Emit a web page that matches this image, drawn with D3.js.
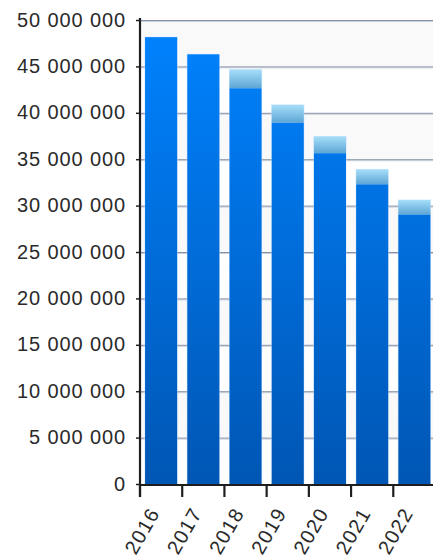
<!DOCTYPE html>
<html>
<head>
<meta charset="utf-8">
<script src="https://cdn.jsdelivr.net/npm/d3@7"></script>
<style>
  html, body { margin: 0; padding: 0; background: #fff; }
  svg { display: block; }
  text { font-family: "Liberation Sans", Arial, Helvetica, sans-serif; fill: #2a2a2a; }
</style>
</head>
<body>
<svg id="chart" width="433" height="560"></svg>
<script>
// Years on the category axis
const years = ["2016", "2017", "2018", "2019", "2020", "2021", "2022"];
// Lower (dark blue) segment of each bar
const baseValues = [48150000, 46300000, 42650000, 38950000, 35650000, 32300000, 29050000];
// Upper (light blue) segment stacked on top
const topValues = [0, 0, 2000000, 1900000, 1800000, 1600000, 1550000];
// Value axis ticks
const yTicks = [0, 5000000, 10000000, 15000000, 20000000, 25000000, 30000000, 35000000, 40000000, 45000000, 50000000];

const svg = d3.select("#chart");
const plotLeft = 140, plotRight = 435.5, plotTop = 20, plotBottom = 484;

const x = d3.scaleBand().domain(years).range([plotLeft, plotRight]).paddingInner(0.24).paddingOuter(0.12);
const y = d3.scaleLinear().domain([0, 50000000]).range([plotBottom, plotTop]);

const fmt = v => d3.format(",")(v).replace(/,/g, " ");
const tickX = d => x(d) - x.step() * x.paddingOuter();

const defs = svg.append("defs");
const gDark = defs.append("linearGradient").attr("id", "gDark")
  .attr("gradientUnits", "userSpaceOnUse").attr("x1", 0).attr("x2", 0).attr("y1", plotTop).attr("y2", plotBottom);
gDark.append("stop").attr("offset", 0).attr("stop-color", "#0083ff");
gDark.append("stop").attr("offset", 1).attr("stop-color", "#0056b4");

const gLight = defs.append("linearGradient").attr("id", "gLight")
  .attr("x1", 0).attr("x2", 0).attr("y1", 0).attr("y2", 1);
gLight.append("stop").attr("offset", 0).attr("stop-color", "#a6def9");
gLight.append("stop").attr("offset", 1).attr("stop-color", "#5ea6d6");

// Alternating background bands between gridlines
const bands = yTicks.slice(0, -1).map((t, i) => [t, yTicks[i + 1]]);
svg.append("g").selectAll("rect").data(bands).join("rect")
  .attr("x", plotLeft).attr("width", 433 - plotLeft)
  .attr("y", d => y(d[1])).attr("height", d => y(d[0]) - y(d[1]))
  .attr("fill", (d, i) => (bands.length - 1 - i) % 2 === 0 ? "#f9f9fa" : "#ffffff");

// Gridlines with a soft shadow
const grid = svg.append("g");
grid.selectAll("line.sh").data(yTicks.slice(1)).join("line").attr("class", "sh")
  .attr("x1", plotLeft).attr("x2", 433)
  .attr("y1", d => y(d) + 1.5).attr("y2", d => y(d) + 1.5)
  .attr("stroke", "#c9d0da").attr("stroke-width", 1);
grid.selectAll("line.gl").data(yTicks.slice(1)).join("line").attr("class", "gl")
  .attr("x1", plotLeft).attr("x2", 433)
  .attr("y1", d => y(d) + 0.5).attr("y2", d => y(d) + 0.5)
  .attr("stroke", "#8593a8").attr("stroke-width", 1);

// Bars: dark base segment with the light segment stacked on top
const bars = svg.append("g");
years.forEach((yr, i) => {
  const bx = x(yr), bw = x.bandwidth();
  const b = baseValues[i], t = topValues[i];
  bars.append("rect").attr("x", bx - 0.5).attr("width", bw + 1)
    .attr("y", y(b + t) - 0.5).attr("height", y(0) - y(b + t) + 0.5)
    .attr("fill", "#bfe0ff").attr("opacity", 0.7);
  bars.append("rect").attr("x", bx).attr("width", bw)
    .attr("y", y(b)).attr("height", y(0) - y(b))
    .attr("fill", "url(#gDark)");
  if (t > 0) {
    bars.append("rect").attr("x", bx).attr("width", bw)
      .attr("y", y(b + t)).attr("height", y(b) - y(b + t))
      .attr("fill", "url(#gLight)");
  }
});

// Value axis
const yAxis = svg.append("g").attr("transform", `translate(${plotLeft},0)`)
  .call(d3.axisLeft(y).tickValues(yTicks).tickFormat(fmt).tickSize(4).tickPadding(10));
yAxis.select(".domain").remove();
yAxis.selectAll(".tick line").attr("stroke", "#222").attr("stroke-width", 1.5);
yAxis.selectAll(".tick text").attr("font-size", 20).attr("letter-spacing", 0.9)
  .attr("fill", "#2e2e2e").attr("dy", "0.3em")
  .attr("font-family", "'Liberation Sans', Arial, sans-serif");

svg.append("line").attr("x1", plotLeft).attr("x2", plotLeft).attr("y1", plotTop - 2).attr("y2", 497)
  .attr("stroke", "#1e1e1e").attr("stroke-width", 2.2);

// Category axis: ticks sit at the left edge of each band
const xAxisG = svg.append("g");
xAxisG.append("line").attr("x1", plotLeft).attr("x2", 433).attr("y1", plotBottom + 1).attr("y2", plotBottom + 1)
  .attr("stroke", "#1e1e1e").attr("stroke-width", 2.2);
xAxisG.selectAll("line.tk").data(years).join("line").attr("class", "tk")
  .attr("x1", tickX).attr("x2", tickX)
  .attr("y1", plotBottom).attr("y2", 497)
  .attr("stroke", "#1e1e1e").attr("stroke-width", 2.2);
xAxisG.selectAll("text").data(years).join("text")
  .attr("transform", d => `translate(${tickX(d) + 16},${510}) rotate(-60)`)
  .attr("text-anchor", "end").attr("dominant-baseline", "middle")
  .attr("font-size", 20).attr("letter-spacing", 1.3).attr("fill", "#2e2e2e")
  .text(d => d);
</script>
</body>
</html>
